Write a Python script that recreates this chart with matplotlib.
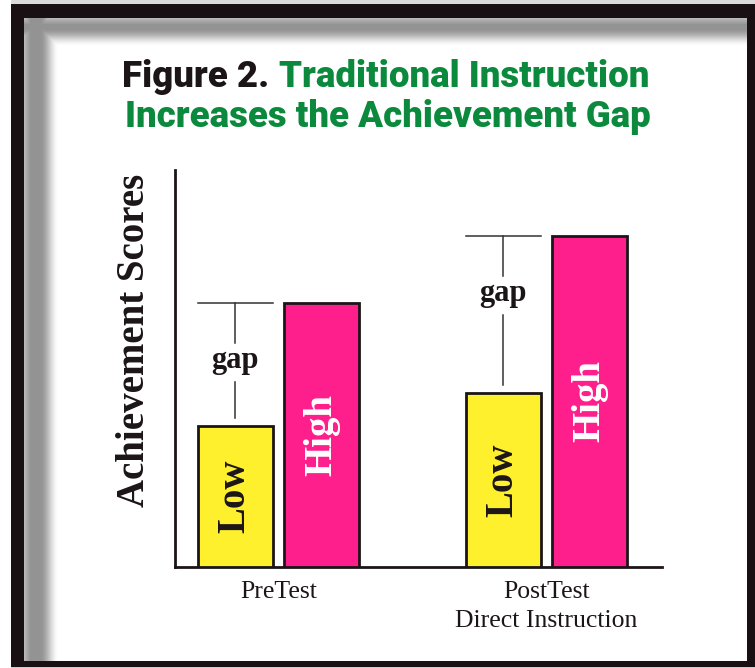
import numpy as np
import matplotlib
matplotlib.use("Agg")
import matplotlib.pyplot as plt

# ---------------- data ----------------
categories = ["PreTest", "PostTest\nDirect Instruction"]
low_scores = [35.5, 43.8]
high_scores = [66.5, 83.4]
bar_labels = ["Low", "High"]
gap_label = "gap"
y_label = "Achievement Scores"
title_black = "Figure 2."
title_green_1 = "Traditional Instruction"
title_green_2 = "Increases the Achievement Gap"

# ---------------- style ----------------
YELLOW = "#fff02d"
PINK = "#ff1f8c"
GREEN = "#0b8a3e"
INK = "#1c1518"
SERIF = ["Liberation Serif", "DejaVu Serif"]
TITLE_FONT = ["Roboto", "DejaVu Sans"]

W, H, DPI = 755, 668, 100
fig = plt.figure(figsize=(W / DPI, H / DPI), dpi=DPI)

# ---------------- frame with soft shadow (decoration) ----------------
bg = fig.add_axes([0, 0, 1, 1], zorder=-10)
yy, xx = np.mgrid[0:H, 0:W].astype(float)
in_l, in_t, in_r, in_b = 24, 18, 747, 661


def shadow(d, plateau_end, fade_end, peak=0.42):
    d = np.asarray(d, float)
    rise = 0.65 + 0.35 * np.clip(d / 6.0, 0, 1)
    s = np.clip((d - plateau_end) / (fade_end - plateau_end), 0, 1)
    fade = 1 - (3 * s ** 2 - 2 * s ** 3)
    out = peak * rise * fade
    out[d < 0] = 0
    return out


dark = np.maximum(shadow(yy - in_t, 10, 28), shadow(xx - in_l, 16, 34))
val = 1 - dark
img = np.dstack([val, val, val])
frame_col = np.array([0.10, 0.065, 0.08])
mask_black = ((yy >= 4) & (yy < in_t) & (xx >= 11)) | \
             ((xx >= 11) & (xx < in_l) & (yy >= 4)) | \
             ((xx >= in_r) & (yy >= 4)) | \
             ((yy >= in_b) & (xx >= 11))
img[mask_black] = frame_col
img[(yy < 4) & (xx >= 11)] = 0.86
img[(xx < 11)] = 1.0
img[(yy >= H - 1) & (xx >= 11)] = 0.8
bg.imshow(img, extent=[0, W, H, 0], aspect="auto", interpolation="bilinear")
bg.set_xlim(0, W)
bg.set_ylim(H, 0)
bg.axis("off")

# ---------------- main axes ----------------
ax = fig.add_axes([175 / W, (H - 567) / H, (662 - 175) / W, (567 - 170) / H])
ax.patch.set_alpha(0)
x = np.arange(len(categories))
off, width = 0.162, 0.28

ax.bar(x - off, low_scores, width, color=YELLOW, edgecolor=INK, linewidth=2, zorder=3)
ax.bar(x + off, high_scores, width, color=PINK, edgecolor=INK, linewidth=2, zorder=3)

for i in range(len(categories)):
    lo, hi = low_scores[i], high_scores[i]
    ax.text(x[i] - off, lo / 2, bar_labels[0], rotation=90, ha="center", va="center",
            color=INK, fontsize=28, fontweight="bold", family=SERIF, zorder=4)
    ax.text(x[i] + off, hi / 2, bar_labels[1], rotation=90, ha="center", va="center",
            color="white", fontsize=28, fontweight="bold", family=SERIF, zorder=4)
    lx = x[i] - off
    ax.plot([lx - width / 2, lx + width / 2], [hi, hi], color="#333333", lw=1.1, zorder=2)
    ax.plot([lx, lx], [hi, hi - 10], color="#333333", lw=1.1, zorder=2)
    ax.plot([lx, lx], [hi - 20, lo + 2], color="#333333", lw=1.1, zorder=2)
    ax.text(lx, hi - 14.4, gap_label, ha="center", va="center", color=INK,
            fontsize=22, fontweight="bold", family=SERIF, zorder=4)

ax.set_xlim(-0.386, 1.431)
ax.set_ylim(0, 100)
for s in ["top", "right"]:
    ax.spines[s].set_visible(False)
for s in ["left", "bottom"]:
    ax.spines[s].set_linewidth(2)
    ax.spines[s].set_color(INK)
ax.set_yticks([])
ax.set_xticks(x)
ax.set_xticklabels(categories, fontsize=18.5, family=SERIF, color=INK, linespacing=1.43)
ax.tick_params(axis="x", length=0, pad=10)
ax.set_ylabel(y_label, fontsize=28, fontweight="bold", family=SERIF, color=INK)
ax.yaxis.set_label_coords(-0.045, 0.572)

# ---------------- title ----------------
r = fig.canvas.get_renderer()
t2 = fig.text(387.5 / W, 1 - 127 / H, title_green_2, color=GREEN, ha="center", va="baseline",
              fontsize=22, fontweight="black", family=TITLE_FONT)
w2 = t2.get_window_extent(r).width
fs = 22 * 525 / w2
t2.set_fontsize(fs)

ta = fig.text(0, 1 - 87 / H, title_black, color=INK, ha="left", va="baseline",
              fontsize=fs, fontweight="black", family=TITLE_FONT)
tb = fig.text(0, 1 - 87 / H, title_green_1, color=GREEN, ha="left", va="baseline",
              fontsize=fs, fontweight="black", family=TITLE_FONT)
wa = ta.get_window_extent(r).width
wb = tb.get_window_extent(r).width
space = 0.27 * fs * DPI / 72
total = wa + space + wb
x0 = 385.5 - total / 2
ta.set_x(x0 / W)
tb.set_x((x0 + wa + space) / W)

fig.savefig("out.png", dpi=DPI)
